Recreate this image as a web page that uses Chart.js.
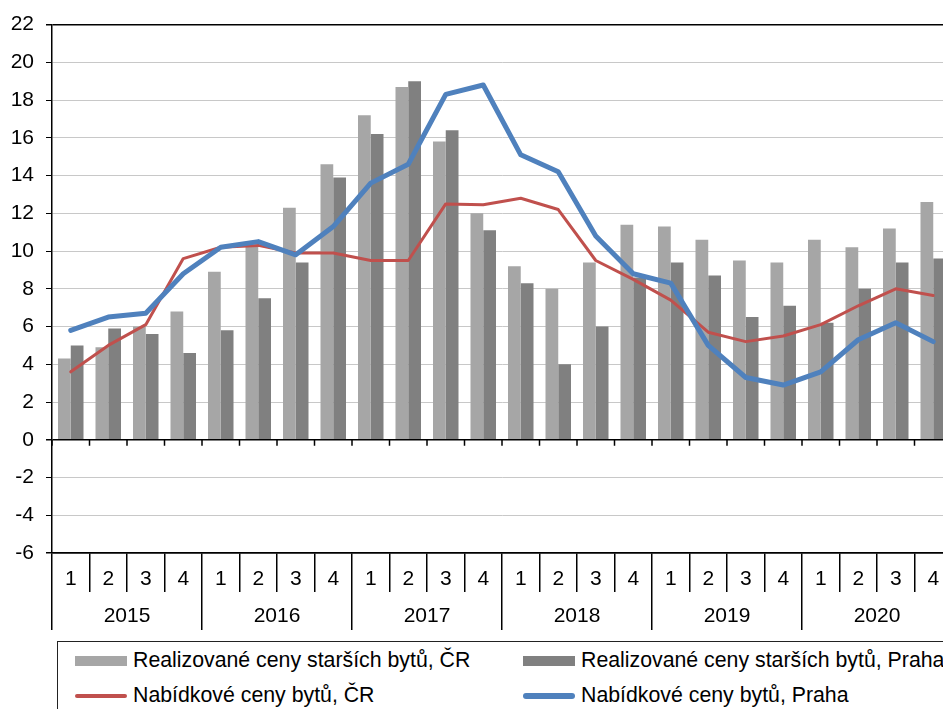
<!DOCTYPE html>
<html lang="cs">
<head>
<meta charset="utf-8">
<title>Ceny bytů</title>
<script src="https://cdn.jsdelivr.net/npm/chart.js@4.4.1/dist/chart.umd.min.js"></script>
<style>
  html, body { margin: 0; padding: 0; background: #fff; overflow: hidden; }
  #wrap { position: relative; width: 960px; height: 720px; }
  #legend {
    position: absolute; left: 57px; top: 641px; width: 940px; height: 80px;
    box-sizing: border-box; border: 1px solid #222;
    padding: 1px 0 0 17px;
    display: grid; grid-template-columns: 448px 448px; grid-auto-rows: 35px;
    font-family: 'Liberation Sans', Arial, sans-serif; font-size: 21.3px; color: #000;
  }
  .item { display: flex; align-items: center; white-space: nowrap; }
  .sw { width: 52px; margin-right: 6px; flex: none; }
</style>
</head>
<body>
<div id="wrap">
  <canvas id="myC" width="960" height="640"></canvas>
  <div id="legend"></div>
</div>
<script>
const quarters = ['1', '2', '3', '4', '1', '2', '3', '4', '1', '2', '3', '4',
                  '1', '2', '3', '4', '1', '2', '3', '4', '1', '2', '3', '4'];
const years = ['2015', '2016', '2017', '2018', '2019', '2020'];

// meziroční změny cen (%)
const realizovaneCR = [4.3, 4.9, 6.0, 6.8, 8.9, 10.3, 12.3, 14.6, 17.2, 18.7, 15.8, 12.0,
                       9.2, 8.0, 9.4, 11.4, 11.3, 10.6, 9.5, 9.4, 10.6, 10.2, 11.2, 12.6];
const realizovanePraha = [5.0, 5.9, 5.6, 4.6, 5.8, 7.5, 9.4, 13.9, 16.2, 19.0, 16.4, 11.1,
                          8.3, 4.0, 6.0, 8.6, 9.4, 8.7, 6.5, 7.1, 6.2, 8.0, 9.4, 9.6];
const nabidkoveCR = [3.6, 5.0, 6.1, 9.6, 10.2, 10.3, 9.9, 9.9, 9.5, 9.5, 12.5, 12.45,
                     12.8, 12.2, 9.5, 8.5, 7.4, 5.7, 5.2, 5.5, 6.1, 7.1, 8.0, 7.65];
const nabidkovePraha = [5.8, 6.5, 6.7, 8.8, 10.2, 10.5, 9.8, 11.3, 13.6, 14.6, 18.3, 18.8,
                        15.1, 14.2, 10.8, 8.8, 8.3, 5.0, 3.3, 2.9, 3.6, 5.3, 6.2, 5.2];

Chart.defaults.font.family = "'Liberation Sans', Arial, sans-serif";
Chart.defaults.font.size = 21;
Chart.defaults.color = '#000';

// krátké značky pod nulovou osou
const zeroTicks = {
  id: 'zeroTicks',
  afterDatasetsDraw(chart) {
    const x = chart.scales.x;
    const y0 = chart.scales.y.getPixelForValue(0);
    const c = chart.ctx;
    c.save();
    c.strokeStyle = '#000';
    c.lineWidth = 1.5;
    c.beginPath();
    for (let i = 0; i <= quarters.length; i++) {
      const px = x.getPixelForValue(i - 0.5);
      c.moveTo(px, y0);
      c.lineTo(px, y0 + 6);
    }
    c.stroke();
    c.restore();
  }
};

const ctx = document.querySelector('#myC').getContext('2d');

const chart = new Chart(ctx, {
  type: 'bar',
  data: {
    labels: quarters,
    datasets: [{
      label: 'Realizované ceny starších bytů, ČR',
      data: realizovaneCR,
      backgroundColor: '#a6a6a6',
      order: 2
    }, {
      label: 'Realizované ceny starších bytů, Praha',
      data: realizovanePraha,
      backgroundColor: '#808080',
      order: 3
    }, {
      type: 'line',
      label: 'Nabídkové ceny bytů, ČR',
      data: nabidkoveCR,
      borderColor: '#c0504d',
      borderWidth: 3,
      pointRadius: 0,
      tension: 0,
      borderJoinStyle: 'round',
      borderCapStyle: 'round',
      order: 1
    }, {
      type: 'line',
      label: 'Nabídkové ceny bytů, Praha',
      data: nabidkovePraha,
      borderColor: '#4f81bd',
      borderWidth: 5,
      pointRadius: 0,
      tension: 0,
      borderJoinStyle: 'round',
      borderCapStyle: 'round',
      order: 0
    }]
  },
  options: {
    responsive: false,
    animation: false,
    devicePixelRatio: 1,
    layout: { padding: { top: 22, right: 8, bottom: 10, left: 0 } },
    datasets: {
      bar: { categoryPercentage: 0.68, barPercentage: 1.0 }
    },
    scales: {
      y: {
        min: -6,
        max: 22,
        ticks: { stepSize: 2, padding: 12 },
        grid: {
          color: c => [0, 22, -6].includes(c.tick && c.tick.value) ? '#000' : '#c8c8c8',
          lineWidth: c => [0, 22, -6].includes(c.tick && c.tick.value) ? 1.5 : 1,
          tickColor: '#000',
          tickLength: 6
        },
        border: { color: '#000', width: 1.5 },
        afterFit(s) { s.width = 52; }
      },
      x: {
        type: 'category',
        position: 'bottom',
        offset: true,
        weight: 0,
        grid: { offset: true, drawOnChartArea: false, tickLength: 39, color: '#000', lineWidth: 1.5 },
        border: { display: true, color: '#000', width: 1.5 },
        ticks: { padding: -25, maxRotation: 0, autoSkip: false },
        afterFit(s) { s.height = 39; }
      },
      year: {
        type: 'category',
        labels: years,
        position: 'bottom',
        offset: true,
        weight: 1,
        grid: { offset: true, drawOnChartArea: false, tickLength: 38, color: '#000', lineWidth: 1.5 },
        border: { display: false },
        ticks: { padding: -26, maxRotation: 0, autoSkip: false },
        afterFit(s) { s.height = 38; }
      }
    },
    plugins: {
      legend: { display: false },
      tooltip: { enabled: false }
    }
  },
  plugins: [zeroTicks]
});

// legenda ve dvou sloupcích
const legend = document.querySelector('#legend');
chart.data.datasets.forEach(ds => {
  const item = document.createElement('div');
  item.className = 'item';
  const sw = document.createElement('span');
  sw.className = 'sw';
  if (ds.type === 'line') {
    sw.style.height = (ds.borderWidth + 1) + 'px';
    sw.style.background = ds.borderColor;
    sw.style.borderRadius = '3px';
  } else {
    sw.style.height = '10px';
    sw.style.background = ds.backgroundColor;
  }
  const txt = document.createElement('span');
  txt.textContent = ds.label;
  item.appendChild(sw);
  item.appendChild(txt);
  legend.appendChild(item);
});
</script>
</body>
</html>
